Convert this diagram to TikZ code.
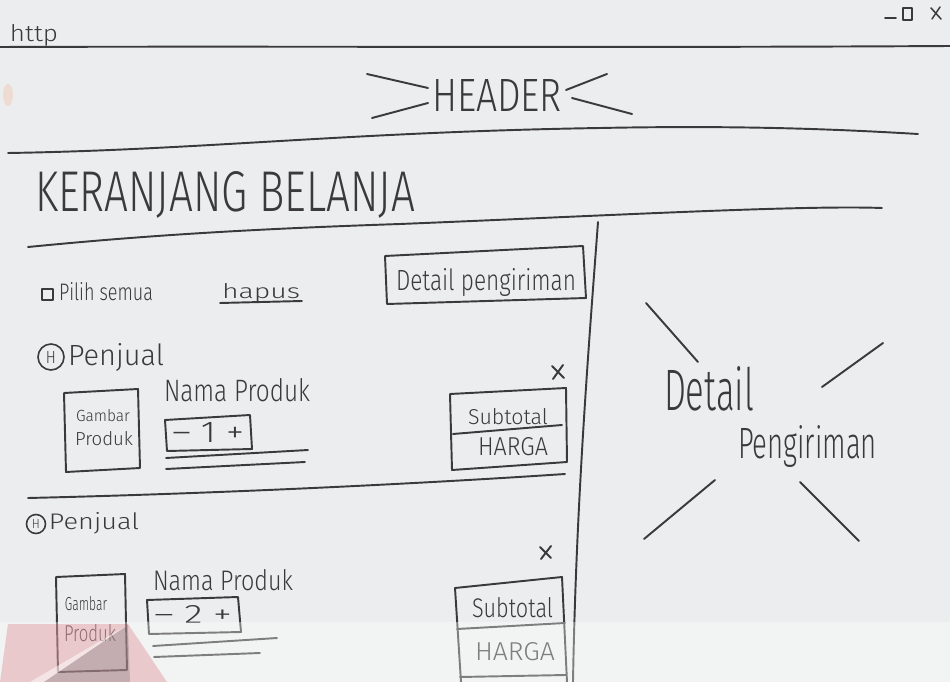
\documentclass[tikz,border=0pt]{standalone}
\usepackage{fontspec}
\setmainfont{Fira Sans Light}
\usepackage{graphicx}
\newlength{\px}\setlength{\px}{0.02cm}
% text squeezed into a given width and height (in pixel units)
\newcommand{\hw}[3]{\resizebox{#1\px}{#2\px}{#3}}
\definecolor{paper}{RGB}{236,237,238}
\definecolor{inkc}{RGB}{58,58,60}
\definecolor{wmred}{RGB}{205,35,50}
\definecolor{wmgray}{RGB}{110,110,112}
\tikzset{
  ink/.style={draw=inkc, line width=1.1pt, line cap=round, line join=round},
  thinink/.style={draw=inkc, line width=0.85pt, line cap=round, line join=round},
  hand/.style={inner sep=0pt, outer sep=0pt, text=inkc, anchor=base west},
  shop/.style={draw=inkc, line width=0.9pt, circle, inner sep=0pt, text=inkc},
}
\begin{document}
\begin{tikzpicture}[x=0.02cm, y=-0.02cm]
% paper
\fill[paper] (0,0) rectangle (950,682);
\useasboundingbox (0,0) rectangle (950,682);
\fill[orange!70!red, opacity=0.12] (8,95) ellipse (5 and 11);

% ---------- browser bar ----------
\node[hand] (http) at (10,42) {\hw{48}{17}{http}};
\draw[ink] (885,18) -- (896,18);
\draw[thinink] (903,8) rectangle (912,20);
\draw[thinink] (931,8) -- (941,19) (940,7) -- (932,19);
\draw[ink] (0,47) .. controls (300,46) and (600,48) .. (950,46);

% ---------- header ----------
\node[hand] (header) at (432,112) {\hw{130}{32}{HEADER}};
\draw[ink] (367,74) -- (428,88);
\draw[ink] (372,118) -- (428,103);
\draw[ink] (566,90) -- (607,74);
\draw[ink] (572,98) -- (632,114);
\draw[ink] (8,153) .. controls (200,150) and (350,132) .. (600,128)
               .. controls (750,125) and (850,130) .. (918,134);

% ---------- page title ----------
\node[hand] (title) at (35,212) {\hw{380}{40}{KERANJANG BELANJA}};
\draw[ink] (28,247) .. controls (120,238) and (220,230) .. (400,224)
                .. controls (600,216) and (800,205) .. (882,208);

% column divider
\draw[ink] (598,222) .. controls (590,330) and (576,500) .. (573,682);

% ---------- select-all row ----------
\draw[thinink] (42,289) rectangle (53,300);
\node[hand] (pilih) at (59,300) {\hw{94}{18}{Pilih semua}};
\node[hand] (hapus) at (222,298) {\hw{78}{15}{hapus}};
\draw[ink] (220,303) -- (302,301);
\draw[ink] (385,256) -- (583,246) -- (586,298) -- (387,304) -- cycle;
\node[hand] (detbtn) at (396,291) {\hw{180}{22}{Detail pengiriman}};

% ---------- seller 1 ----------
\node[shop, minimum size=26\px] (shop1) at (51,357) {\hw{10}{12}{H}};
\node[hand] (seller1) at (68,365) {\hw{96}{22}{Penjual}};
\draw[ink] (552,366) -- (564,378) (563,365) -- (553,379);
\draw[ink] (64,393) -- (138,389) -- (140,468) -- (66,472) -- cycle;
\node[hand] (img1a) at (76,421) {\hw{54}{12}{Gambar}};
\node[hand] (img1b) at (75,445) {\hw{58}{14}{Produk}};
\node[hand] (name1) at (164,401) {\hw{146}{23}{Nama Produk}};
\draw[ink] (165,420) -- (250,415) -- (252,449) -- (167,451) -- cycle;
\node[hand] (qty1) at (172,442) {\hw{72}{20}{– 1 +}};
\draw[ink] (166,458) -- (308,450);
\draw[ink] (166,469) -- (305,462);
\draw[ink] (450,394) -- (566,388) -- (567,462) -- (452,470) -- cycle;
\draw[ink] (453,434) -- (562,425);
\node[hand] (sub1) at (468,424) {\hw{80}{16}{Subtotal}};
\node[hand] (price1) at (478,455) {\hw{70}{18}{HARGA}};
\draw[ink] (28,498) .. controls (200,494) and (400,485) .. (565,474);

% ---------- seller 2 ----------
\node[shop, minimum size=19\px] (shop2) at (36,524) {\hw{8}{9}{H}};
\node[hand] (seller2) at (49,529) {\hw{90}{17}{Penjual}};
\draw[ink] (540,547) -- (551,558) (551,546) -- (541,559);
\draw[ink] (56,577) -- (125,574) -- (127,670) -- (58,672) -- cycle;
\node[hand] (img2a) at (65,610) {\hw{42}{14}{Gambar}};
\node[hand] (img2b) at (64,641) {\hw{52}{17}{Produk}};
\node[hand] (name2) at (153,590) {\hw{140}{21}{Nama Produk}};
\draw[ink] (147,600) -- (238,597) -- (241,632) -- (149,634) -- cycle;
\node[hand] (qty2) at (154,623) {\hw{78}{18}{– 2 +}};
\draw[ink] (153,646) -- (277,638);
\draw[ink] (154,657) -- (260,653);
\draw[ink] (455,588) -- (562,577) -- (567,682);
\draw[ink] (455,588) -- (461,682);
\draw[ink] (457,629) -- (565,623);
\draw[ink] (460,677) -- (566,675);
\node[hand] (sub2) at (472,617) {\hw{81}{20}{Subtotal}};
\node[hand] (price2) at (475,660) {\hw{80}{18}{HARGA}};

% ---------- shipping details panel ----------
\node[hand] (shipa) at (664,410) {\hw{90}{44}{Detail}};
\node[hand] (shipb) at (738,458) {\hw{139}{33}{Pengiriman}};
\draw[ink] (646,303) -- (698,362);
\draw[ink] (883,343) -- (822,387);
\draw[ink] (715,480) -- (644,539);
\draw[ink] (800,482) -- (859,541);

% ---------- faint stamp along the lower edge ----------
\fill[white, opacity=0.35] (0,622) rectangle (950,682);
\fill[wmred, opacity=0.2] (8,624) -- (128,624) -- (167,682) -- (0,682) -- cycle;
\fill[white, opacity=0.5] (126,626) -- (30,682) -- (44,682) -- cycle;
\fill[wmgray, opacity=0.3] (128,625) -- (44,682) -- (130,682) -- cycle;
\end{tikzpicture}
\end{document}
